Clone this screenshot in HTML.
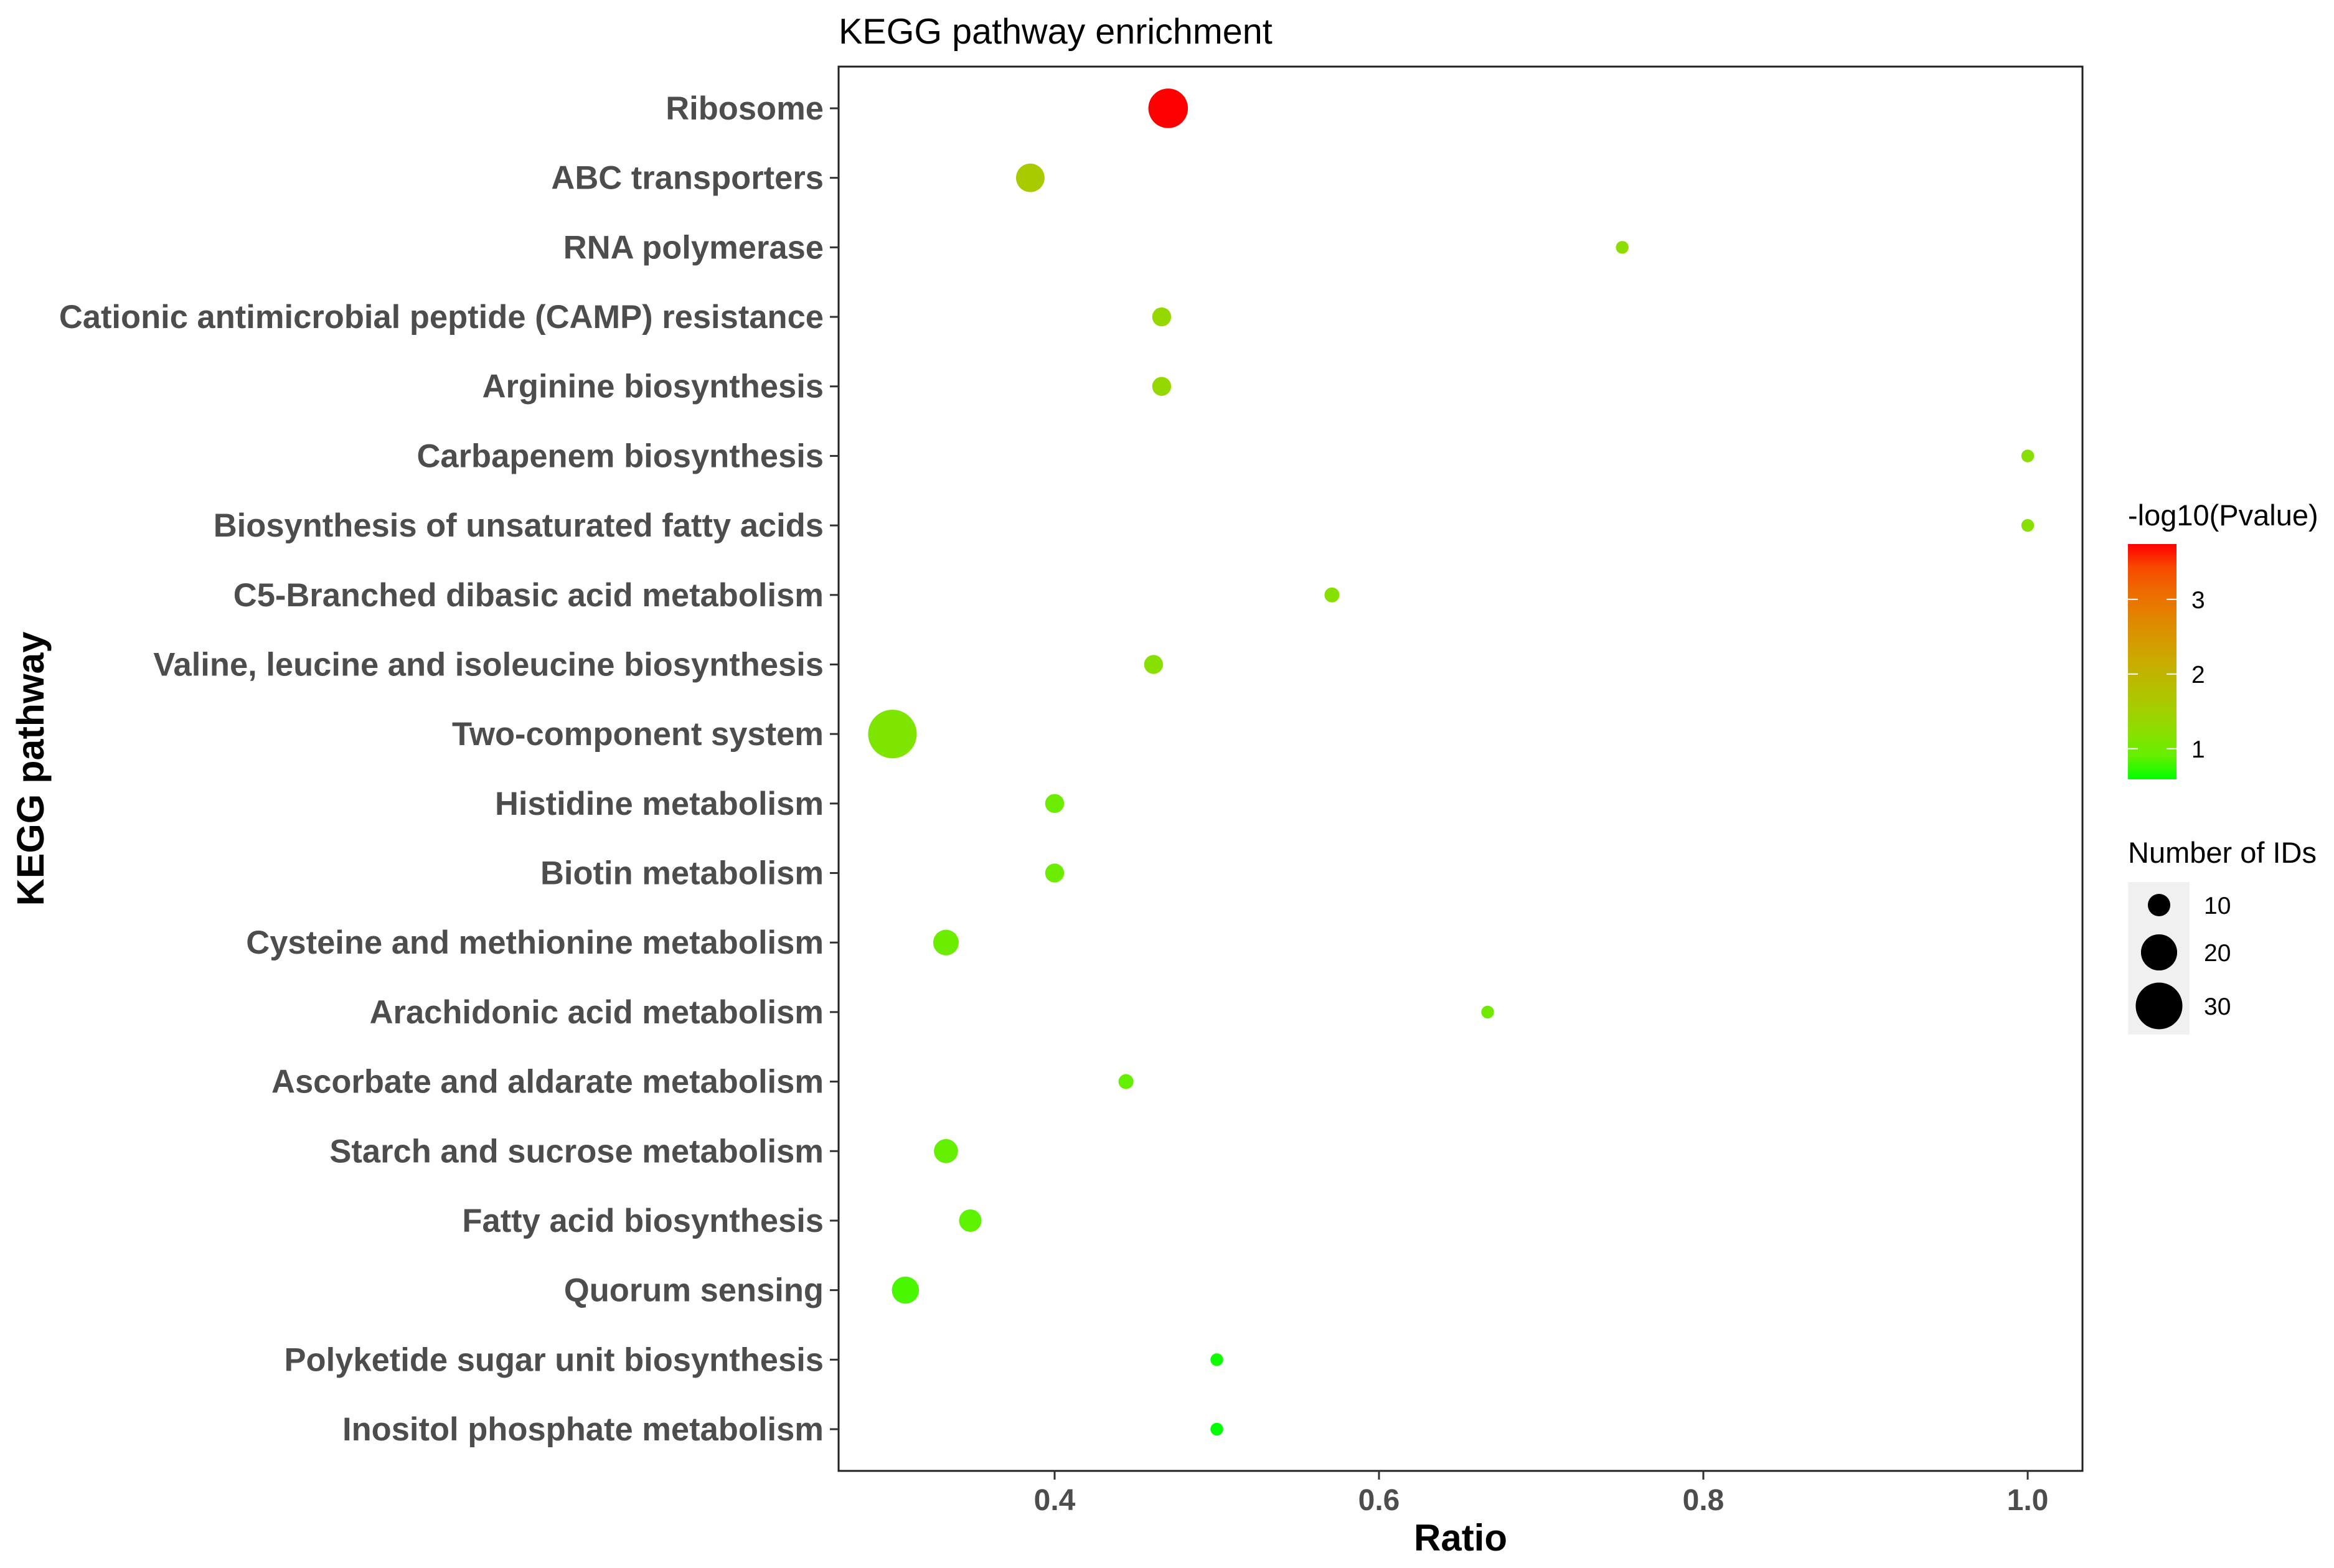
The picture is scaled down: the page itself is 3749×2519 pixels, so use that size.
<!DOCTYPE html>
<html><head><meta charset="utf-8">
<style>
html,body{margin:0;padding:0;background:#fff;}
svg{display:block;font-family:"Liberation Sans",Arial,sans-serif;}
</style></head>
<body>
<svg id="chart" width="3749" height="2519" viewBox="0 0 3749 2519" xmlns="http://www.w3.org/2000/svg">
<defs>
<linearGradient id="cbgrad" x1="0" y1="1" x2="0" y2="0"></linearGradient>
</defs>
<rect width="3749" height="2519" fill="#fff"/>
<text x="1347" y="70" font-size="57.5" fill="#000">KEGG pathway enrichment</text>
<g id="plot"></g>
<text x="2346" y="2491" font-size="60" font-weight="bold" text-anchor="middle" fill="#000">Ratio</text>
<text transform="translate(70,1235) rotate(-90)" font-size="61" font-weight="bold" text-anchor="middle" fill="#000">KEGG pathway</text>
<g id="legend"></g>
</svg>
<script>
const categories = ["Ribosome","ABC transporters","RNA polymerase","Cationic antimicrobial peptide (CAMP) resistance","Arginine biosynthesis","Carbapenem biosynthesis","Biosynthesis of unsaturated fatty acids","C5-Branched dibasic acid metabolism","Valine, leucine and isoleucine biosynthesis","Two-component system","Histidine metabolism","Biotin metabolism","Cysteine and methionine metabolism","Arachidonic acid metabolism","Ascorbate and aldarate metabolism","Starch and sucrose metabolism","Fatty acid biosynthesis","Quorum sensing","Polyketide sugar unit biosynthesis","Inositol phosphate metabolism"];
const ratios = [0.47,0.385,0.75,0.466,0.466,1.0,1.0,0.571,0.461,0.30,0.40,0.40,0.333,0.667,0.444,0.333,0.348,0.308,0.50,0.50];
const counts = [23,14,5,8,8,5,5,6,8,32,8,8,12,5,6,11,10,13,5,5];
const pvals = [3.74,1.6,1.25,1.35,1.35,1.2,1.2,1.2,1.2,1.1,0.95,0.95,0.95,1.0,0.9,0.9,0.85,0.75,0.6,0.59];
const xTicks = [0.4,0.6,0.8,1.0];
const xTickLabels = ["0.4","0.6","0.8","1.0"];
const colorTicks = [1,2,3];
const sizeKeys = [10,20,30];

const NS="http://www.w3.org/2000/svg";
const L=1347,R=3345,T=107,B=2363;
const x04=1694,x10=3257;
function xs(v){return x04+(v-0.4)/(0.6)*(x10-x04);}
const step=(B-T)/(categories.length-1+1.2);
function ys(i){return T+0.6*step+i*step;}
function rs(n){return Math.max(5,8.42*Math.sqrt(n)-8.6);}
const cMin=0.59,cMax=3.74;
function lab2rgb(Lv,a,b){let y=(Lv+16)/116,x=a/500+y,z=y-b/200;
 const f=t=>t*t*t>0.008856?t*t*t:(t-16/116)/7.787;
 x=0.95047*f(x);y=f(y);z=1.08883*f(z);
 let r=x*3.2406+y*-1.5372+z*-0.4986,g=x*-0.9689+y*1.8758+z*0.0415,bb=x*0.0557+y*-0.2040+z*1.0570;
 const c=v=>{v=v>0.0031308?1.055*Math.pow(v,1/2.4)-0.055:12.92*v;return Math.round(Math.min(1,Math.max(0,v))*255);};
 return "rgb("+c(r)+","+c(g)+","+c(bb)+")";}
const G=[87.73,-86.18,83.18],Rd=[53.24,80.09,67.20];
function col(v){let t=(v-cMin)/(cMax-cMin);t=Math.min(1,Math.max(0,t));
 return lab2rgb(G[0]+(Rd[0]-G[0])*t,G[1]+(Rd[1]-G[1])*t,G[2]+(Rd[2]-G[2])*t);}
function mk(tag,attrs,parent){const e=document.createElementNS(NS,tag);for(const k in attrs)e.setAttribute(k,attrs[k]);parent.appendChild(e);return e;}

const plot=document.getElementById('plot');
const panel=mk('rect',{x:L,y:T,width:R-L,height:B-T,fill:'none',stroke:'#222',"stroke-width":3},plot);


categories.forEach((c,i)=>{
 const tk=mk('line',{x1:L-14,x2:L,y1:ys(i),y2:ys(i),stroke:'#333',"stroke-width":3},plot);
 
 
 const t=mk('text',{x:L-24,y:ys(i)+18,"font-size":52.5,"font-weight":"bold","text-anchor":"end",fill:'#4d4d4d'},plot);
 t.textContent=c;
 
 
});
xTicks.forEach((v,i)=>{
 const tk=mk('line',{x1:xs(v),x2:xs(v),y1:B,y2:B+14,stroke:'#333',"stroke-width":3},plot);
 
 
 const t=mk('text',{x:xs(v),y:2426,"font-size":48,"font-weight":"bold","text-anchor":"middle",fill:'#4d4d4d'},plot);
 t.textContent=xTickLabels[i];
 
 
});
categories.forEach((c,i)=>{
 const p=mk('circle',{cx:xs(ratios[i]),cy:ys(i),r:rs(counts[i]),fill:col(pvals[i])},plot);
 
 
});

const lg=document.getElementById('legend');
const t1=mk('text',{x:3418,y:844,"font-size":47,fill:'#000'},lg);
t1.textContent='-log10(Pvalue)';


const grad=document.getElementById('cbgrad');
for(let k=0;k<=10;k++){const v=cMin+(cMax-cMin)*k/10;mk('stop',{offset:(k*10)+'%',"stop-color":col(v)},grad);}
const cbT=874,cbB=1252;
function cy(v){return cbB-(v-cMin)/(cMax-cMin)*(cbB-cbT);}
const cb=mk('rect',{x:3418,y:cbT,width:78,height:cbB-cbT,fill:'url(#cbgrad)'},lg);


colorTicks.forEach(v=>{
 mk('line',{x1:3418,x2:3434,y1:cy(v),y2:cy(v),stroke:'#fff',"stroke-width":2},lg);
 mk('line',{x1:3480,x2:3496,y1:cy(v),y2:cy(v),stroke:'#fff',"stroke-width":2},lg);
 const t=mk('text',{x:3520,y:cy(v)+14,"font-size":39,fill:'#000'},lg);
 t.textContent=String(v);
 
 
});
const t2=mk('text',{x:3418,y:1386,"font-size":47,fill:'#000'},lg);
t2.textContent='Number of IDs';


const kb=mk('rect',{x:3418,y:1417,width:99,height:245,fill:'#f0f0f0'},lg);


const keyY=[1454,1530,1616];
sizeKeys.forEach((n,i)=>{
 const c=mk('circle',{cx:3468,cy:keyY[i],r:rs(n),fill:'#000'},lg);
 
 
 const t=mk('text',{x:3540,y:keyY[i]+14,"font-size":39,fill:'#000'},lg);
 t.textContent=String(n);
 
 
});
</script>
</body></html>
